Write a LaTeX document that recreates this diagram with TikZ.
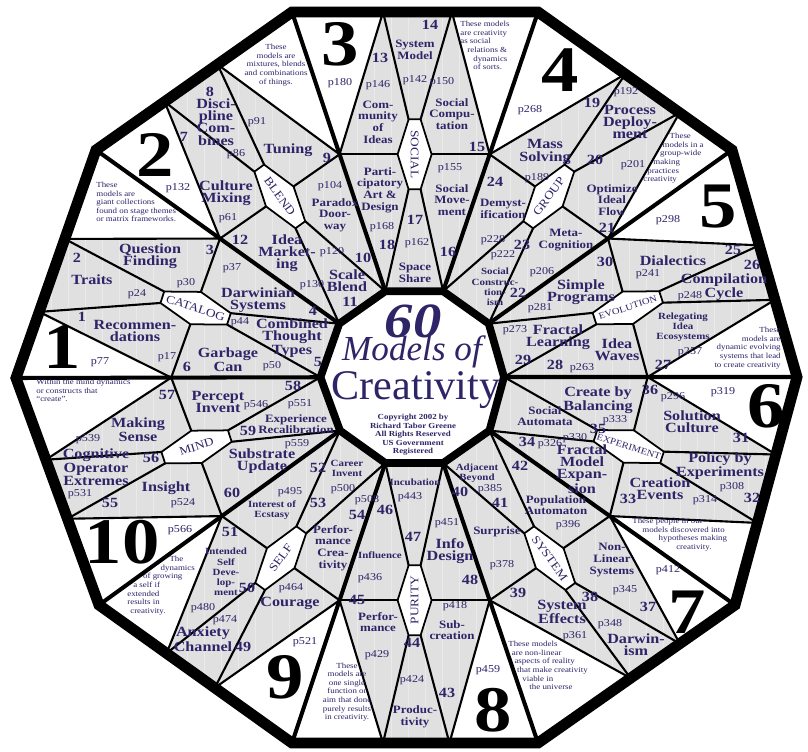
\documentclass[tikz,border=0pt]{standalone}
\usepackage{fontspec}
\setmainfont{Liberation Serif}
\newfontfamily\cellfont[FakeStretch=1.15]{Liberation Serif}
\usetikzlibrary{calc}

\definecolor{ink}{HTML}{2E2468}
\definecolor{cellgray}{HTML}{E0E0E0}
\definecolor{gridgray}{HTML}{EAEAEA}

% one model: [size] number, name pos, name, page pos, page, number pos
\newcommand\model[7][]{%
  \node[mname,#1] (mdl#2) at (#3) {#4};
  \node[pg] (pag#2) at (#5) {#6};
  \node[nr] (nr#2) at (#7) {#2};}

\begin{document}
\begin{tikzpicture}[x=0.02cm, y=-0.02cm,
  rim/.style={line width=6.2pt, line join=miter},
  hub/.style={line width=4.4pt, line join=miter},
  spoke/.style={line width=2.3pt},
  cellline/.style={line width=1.2pt},
  mname/.style={font=\cellfont\bfseries\fontsize{8}{7}\selectfont, text=ink, align=center, inner sep=0pt},
  sm/.style={font=\cellfont\bfseries\fontsize{6.4}{6.6}\selectfont},
  xs/.style={font=\cellfont\bfseries\fontsize{5.4}{5.8}\selectfont},
  pg/.style={font=\cellfont\fontsize{6}{6}\selectfont, text=ink, inner sep=0pt},
  nr/.style={font=\cellfont\bfseries\fontsize{8}{8}\selectfont, text=ink, inner sep=0pt},
  bignr/.style={font=\cellfont\bfseries\fontsize{37}{37}\selectfont, inner sep=0pt},
  blurb/.style={font=\cellfont\fontsize{4.4}{4.9}\selectfont, text=ink, inner sep=0pt},
  grptag/.style={font=\cellfont\fontsize{6.6}{6.6}\selectfont, text=ink, inner sep=0pt}]
\useasboundingbox (0,0) rectangle (808,751);

% corners: outer rim, hub, wedge points on the spokes
\coordinate (C) at (414,377);
\foreach \k/\x/\y in {0/797/377, 1/732/150, 2/538/12, 3/292/12, 4/96/150,
    5/16/378, 6/99/605, 7/292/743, 8/538/743, 9/735/605}{
  \coordinate (V\k) at (\x,\y);
  \coordinate (I\k) at ($(C)!0.235!(V\k)$);
  \coordinate (P\k) at ($(C)!0.61!(V\k)$);
}
% points on the rim and the label hexagon of each group
\foreach \k/\fa/\fb in {0/0.34/0.42, 1/0.27/0.45, 2/0.35/0.37, 3/0.38/0.35, 4/0.39/0.29,
    5/0.36/0.38, 6/0.35/0.40, 7/0.37/0.36, 8/0.47/0.28, 9/0.36/0.34}{
  \pgfmathtruncatemacro\n{mod(\k+1,10)}
  \pgfmathsetmacro\ax{-36*\k-18}
  \coordinate (A\k) at ($(V\k)!\fa!(V\n)$);
  \coordinate (B\k) at ($(V\n)!\fb!(V\k)$);
  \coordinate (Oc\k) at ($(P\k)!0.5!(P\n)$);
  \coordinate (ool\k) at ($(Oc\k)+(\ax:35)+(\ax-90:6)$);
  \coordinate (oor\k) at ($(Oc\k)+(\ax:35)+(\ax+90:6)$);
  \coordinate (oml\k) at ($(Oc\k)+(\ax-90:17)$);
  \coordinate (omr\k) at ($(Oc\k)+(\ax+90:17)$);
  \coordinate (oil\k) at ($(Oc\k)+(\ax+180:35)+(\ax-90:6)$);
  \coordinate (oir\k) at ($(Oc\k)+(\ax+180:35)+(\ax+90:6)$);
}

% grey cells with a faint grid
\fill[cellgray] (V0) -- (V1) -- (V2) -- (V3) -- (V4) -- (V5) -- (V6) -- (V7) -- (V8) -- (V9) -- cycle;
\begin{scope}
  \clip (V0) -- (V1) -- (V2) -- (V3) -- (V4) -- (V5) -- (V6) -- (V7) -- (V8) -- (V9) -- cycle;
  \draw[gridgray, line width=0.5pt] (0,0) grid[step=17] (808,751);
\end{scope}
% white number triangles at the corners
\foreach \k in {0,...,9}{
  \pgfmathtruncatemacro\p{mod(\k+9,10)}
  \fill[white] (P\k) -- (A\k) -- (V\k) -- (B\p) -- cycle;
}
% cell borders and spokes
\foreach \k in {0,...,9}{
  \pgfmathtruncatemacro\n{mod(\k+1,10)}
  \draw[cellline] (B\k) -- (P\n);
  \draw[cellline] (A\k) -- (P\k);
  \draw[cellline] (B\k) -- (ool\k);
  \draw[cellline] (A\k) -- (oor\k);
  \draw[cellline] (P\n) -- (oml\k);
  \draw[cellline] (P\k) -- (omr\k);
  \draw[cellline] (oil\k) -- (I\n);
  \draw[cellline] (oir\k) -- (I\k);
  \draw[spoke] (I\k) -- (V\k);
}
% group labels
\foreach \k/\tg/\rot/\sz in {0/EVOLUTION/18/5.2, 1/GROUP/54/6.6, 2/SOCIAL/-90/6.6,
    3/BLEND/-54/6.6, 4/CATALOG/-18/6.6, 5/MIND/18/6.6, 6/SELF/54/6.6,
    7/PURITY/90/6.6, 8/SYSTEM/-54/6.6, 9/EXPERIMENT/-18/5.2}{
  \filldraw[fill=white, line width=1pt] (ool\k) -- (oor\k) -- (omr\k) -- (oir\k) -- (oil\k) -- (oml\k) -- cycle;
  \node[grptag, rotate=\rot, font=\cellfont\fontsize{\sz}{\sz}\selectfont] (tag\k) at (Oc\k) {\tg};
}
\filldraw[fill=white, hub] (I0) -- (I1) -- (I2) -- (I3) -- (I4) -- (I5) -- (I6) -- (I7) -- (I8) -- (I9) -- cycle;
\draw[rim] (V0) -- (V1) -- (V2) -- (V3) -- (V4) -- (V5) -- (V6) -- (V7) -- (V8) -- (V9) -- cycle;

% centre
\node[font=\cellfont\bfseries\itshape\fontsize{28}{28}\selectfont, text=ink] (sixty) at (413,321) {60};
\node[font=\itshape\fontsize{20}{20}\selectfont, text=ink] (models) at (412,352) {Models of};
\node[font=\fontsize{24}{24}\selectfont, text=ink] (creat) at (416,390) {Creativity};
\node[font=\cellfont\bfseries\fontsize{4.4}{4.8}\selectfont, align=center, text=ink, inner sep=0pt] (copy) at (413,435)
  {Copyright 2002 by\\Richard Tabor Greene\\All Rights Reserved\\US Government\\Registered};

% big group numbers with their pages
\node[bignr] (big1) at (62,347) {1};
\node[bignr] (big2) at (155,155) {2};
\node[bignr] (big3) at (340,44) {3};
\node[bignr] (big4) at (560,70) {4};
\node[bignr] (big5) at (718,207) {5};
\node[bignr] (big6) at (766,406) {6};
\node[bignr] (big7) at (687,612) {7};
\node[bignr] (big8) at (493,710) {8};
\node[bignr] (big9) at (285,677) {9};
\node[bignr] (big10) at (122,542) {10};
\node[pg] (bp1) at (100,362) {p77};
\node[pg] (bp2) at (178,188) {p132};
\node[pg] (bp3) at (340,83) {p180};
\node[pg] (bp4) at (530,110) {p268};
\node[pg] (bp5) at (668,220) {p298};
\node[pg] (bp6) at (723,392) {p319};
\node[pg] (bp7) at (668,570) {p412};
\node[pg] (bp8) at (488,670) {p459};
\node[pg] (bp9) at (305,642) {p521};
\node[pg] (bp10) at (180,530) {p566};

% group descriptions
\node[blurb, align=left, anchor=west] (txt1) at (96,202) {These\\models are\\giant collections\\found on stage themes\\or matrix frameworks.};
\node[blurb, align=center] (txt2) at (276,65) {These\\models are\\mixtures, blends\\and combinations\\of things.};
\node[blurb, align=left, anchor=north west] (txt3) at (460,21) {These models\\are creativity\\as social\\\hspace*{4pt}relations \&\\\hspace*{7.4pt}dynamics\\\hspace*{7.4pt}of sorts.};
\node[blurb, align=left, anchor=north west] (txt4) at (643,133) {\hspace*{15pt}These\\\hspace*{11pt}models in a\\\hspace*{9.6pt}group-wide\\\hspace*{5.7pt}making\\\hspace*{2.3pt}practices\\creativity};
\node[blurb, align=right, anchor=east] (txt5) at (781,348) {These\\models are\\dynamic evolving\\systems that lead\\to create creativity};
\node[blurb, align=left, anchor=north west] (txt6) at (632,518) {These people in our\\\hspace*{5.7pt}models discovered into\\\hspace*{15pt}hypotheses making\\\hspace*{25pt}creativity.};
\node[blurb, align=left, anchor=north west] (txt7) at (508,641) {These models\\\hspace*{2pt}are non-linear\\\hspace*{3.5pt}aspects of reality\\\hspace*{5pt}that make creativity\\\hspace*{8pt}viable in\\\hspace*{12pt}the universe};
\node[blurb, align=center] (txt8) at (347,692) {These\\models are\\one single\\function or\\aim that done\\purely results\\in creativity.};
\node[blurb, align=left, anchor=north west] (txt9) at (127,556) {\hspace*{24pt}The\\\hspace*{19pt}dynamics\\\hspace*{9pt}of growing\\\hspace*{3.4pt}a self if\\extended\\results in\\\hspace*{1.7pt}creativity.};
\node[blurb, align=left, anchor=north west] (txt10) at (36,379) {Within the mind dynamics\\or constructs that\\“create”.};

% CATALOG
\model{1}{135,331}{Recommen-\\dations}{167,357}{p17}{82,317}
\model{2}{92,280}{Traits}{137,294}{p24}{77,258}
\model{3}{150,256}{Question\\Finding}{186,283}{p30}{210,250}
\model{4}{258,300}{Darwinian\\Systems}{232,268}{p37}{313,311}
\model{5}{292,338}{Combined\\Thought\\Types}{240,322}{p44}{318,362}
\model{6}{228,360}{Garbage\\Can}{272,366}{p50}{187,367}
% BLEND
\model{7}{226,193}{Culture\\Mixing}{228,218}{p61}{184,137}
\model{8}{216,122}{Disci-\\pline\\Com-\\bines}{236,154}{p86}{210,92}
\model{9}{288,150}{Tuning}{257,122}{p91}{327,158}
\model[sm]{10}{335,215}{Paradox\\Door-\\way}{330,186}{p104}{363,258}
\model{11}{347,281}{Scale\\Blend}{312,285}{p130}{350,302}
\model{12}{287,253}{Idea\\Market-\\ing}{332,252}{p120}{240,240}
% SOCIAL
\model[sm]{13}{378,122}{Com-\\munity\\of\\Ideas}{378,85}{p146}{380,58}
\model[sm]{14}{415,50}{System\\Model}{415,80}{p142}{430,25}
\model[sm]{15}{452,114}{Social\\Compu-\\tation}{442,82}{p150}{477,147}
\model[sm]{16}{452,200}{Social\\Move-\\ment}{450,168}{p155}{448,252}
\model[sm]{17}{415,273}{Space\\Share}{417,243}{p162}{415,220}
\model[sm]{18}{380,190}{Parti-\\cipatory\\Art \&\\Design}{382,227}{p168}{387,245}
% GROUP
\model{19}{545,152}{Mass\\Solving}{537,178}{p189}{592,103}
\model{20}{630,122}{Process\\Deploy-\\ment}{626,92}{p192}{595,160}
\model[sm]{21}{612,200}{Optimize\\Ideal\\Flow}{633,165}{p201}{607,228}
\model[sm]{22}{566,240}{Meta-\\Cognition}{542,272}{p206}{518,293}
\model[xs]{23}{495,287}{Social\\Construc-\\tion-\\ism}{503,255}{p222}{522,245}
\model[sm]{24}{503,209}{Demyst-\\ification}{493,240}{p228}{495,182}
% EVOLUTION
\model{25}{673,261}{Dialectics}{648,274}{p241}{733,250}
\model{26}{724,287}{Compilation\\Cycle}{690,296}{p248}{752,265}
\model[xs]{27}{683,327}{Relegating\\Idea\\Ecosystems}{690,352}{p257}{663,365}
\model{28}{617,350}{Idea\\Waves}{582,368}{p263}{555,365}
\model{29}{558,337}{Fractal\\Learning}{515,330}{p273}{523,360}
\model{30}{581,292}{Simple\\Programs}{540,308}{p281}{605,262}
% EXPERIMENT
\model{31}{692,422}{Solution\\Culture}{673,397}{p296}{741,438}
\model{32}{720,466}{Policy by\\Experiments}{732,487}{p308}{752,498}
\model{33}{660,489}{Creation\\Events}{705,500}{p314}{628,499}
\model{34}{582,469}{Fractal\\Model\\Expan-\\sion}{550,444}{p326}{527,442}
\model[sm]{35}{545,416}{Social\\Automata}{575,438}{p330}{598,429}
\model{36}{598,400}{Create by\\Balancing}{615,420}{p333}{650,390}
% SYSTEM
\model[sm]{37}{612,560}{Non-\\Linear\\Systems}{625,590}{p345}{648,607}
\model{38}{636,645}{Darwin-\\ism}{610,624}{p348}{590,597}
\model{39}{562,612}{System\\Effects}{575,636}{p361}{518,593}
\model[sm]{40}{497,532}{Surprise}{502,565}{p378}{460,492}
\model[xs]{41}{477,473}{Adjacent\\Beyond}{490,489}{p385}{500,503}
\model[sm]{42}{556,505}{Population\\Automaton}{568,525}{p396}{520,466}
% PURITY
\model[sm]{43}{452,630}{Sub-\\creation}{455,606}{p418}{447,693}
\model[sm]{44}{415,717}{Produc-\\tivity}{412,680}{p424}{412,643}
\model[sm]{45}{378,622}{Perfor-\\mance}{377,655}{p429}{357,600}
\model[xs]{46}{380,555}{Influence}{370,578}{p436}{385,510}
\model[xs]{47}{415,482}{Incubation}{410,497}{p443}{413,537}
\model{48}{450,551}{Info\\Design}{447,523}{p451}{470,580}
% SELF
\model{49}{290,603}{Courage}{291,588}{p464}{243,647}
\model{50}{203,639}{Anxiety\\Channel}{225,620}{p474}{247,588}
\model[xs]{51}{226,572}{Intended\\Self\\Deve-\\lop-\\ment}{203,608}{p480}{230,532}
\model[xs]{52}{272,510}{Interest of\\Ecstasy}{290,492}{p495}{318,468}
\model[xs]{53}{347,468}{Career\\Invent}{343,489}{p500}{318,503}
\model[sm]{54}{333,548}{Perfor-\\mance\\Crea-\\tivity}{367,500}{p508}{357,515}
% MIND
\model{55}{166,488}{Insight}{183,503}{p524}{110,503}
\model{56}{96,467}{Cognitive\\Operator\\Extremes}{80,494}{p531}{151,458}
\model{57}{138,430}{Making\\Sense}{88,439}{p539}{167,395}
\model{58}{218,402}{Percept\\Invent}{256,405}{p546}{293,386}
\model[sm]{59}{296,424}{Experience\\Recalibration}{300,404}{p551}{248,431}
\model{60}{262,461}{Substrate\\Update}{297,444}{p559}{232,493}
\end{tikzpicture}
\end{document}
